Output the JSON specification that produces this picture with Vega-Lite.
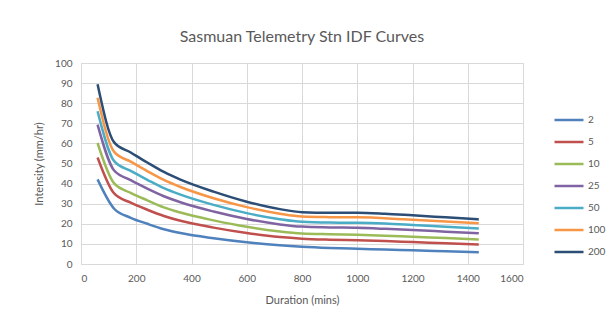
{
  "$schema": "https://vega.github.io/schema/vega-lite/v6.json",
  "width": 442,
  "height": 201,
  "autosize": {"type": "none"},
  "padding": {"left": 81, "top": 63, "right": 88, "bottom": 45},
  "background": "white",
  "title": {
    "text": "Sasmuan Telemetry Stn IDF Curves",
    "font": "Lato",
    "fontSize": 16,
    "fontWeight": "normal",
    "color": "#595959",
    "anchor": "middle",
    "offset": 13
  },
  "config": {
    "view": {"stroke": "#D9D9D9", "strokeWidth": 1},
    "font": "Lato",
    "axis": {
      "labelFont": "Lato",
      "titleFont": "Lato",
      "labelColor": "#595959",
      "titleColor": "#595959",
      "labelFontSize": 10,
      "titleFontSize": 11,
      "titleFontWeight": "normal",
      "gridColor": "#D9D9D9",
      "gridWidth": 1,
      "domain": false,
      "ticks": false
    }
  },
  "data": {
    "values": [
      {"duration": 60, "period": 2, "intensity": 42.1},
      {"duration": 120, "period": 2, "intensity": 27.5},
      {"duration": 180, "period": 2, "intensity": 23.0},
      {"duration": 240, "period": 2, "intensity": 20.0},
      {"duration": 300, "period": 2, "intensity": 17.3},
      {"duration": 360, "period": 2, "intensity": 15.4},
      {"duration": 480, "period": 2, "intensity": 12.8},
      {"duration": 600, "period": 2, "intensity": 10.8},
      {"duration": 720, "period": 2, "intensity": 9.3},
      {"duration": 800, "period": 2, "intensity": 8.6},
      {"duration": 900, "period": 2, "intensity": 8.0},
      {"duration": 1000, "period": 2, "intensity": 7.6},
      {"duration": 1100, "period": 2, "intensity": 7.2},
      {"duration": 1200, "period": 2, "intensity": 6.8},
      {"duration": 1320, "period": 2, "intensity": 6.3},
      {"duration": 1440, "period": 2, "intensity": 5.8},

      {"duration": 60, "period": 5, "intensity": 53.0},
      {"duration": 120, "period": 5, "intensity": 35.1},
      {"duration": 180, "period": 5, "intensity": 30.5},
      {"duration": 240, "period": 5, "intensity": 27.0},
      {"duration": 300, "period": 5, "intensity": 23.9},
      {"duration": 360, "period": 5, "intensity": 21.5},
      {"duration": 480, "period": 5, "intensity": 18.1},
      {"duration": 600, "period": 5, "intensity": 15.4},
      {"duration": 720, "period": 5, "intensity": 13.4},
      {"duration": 800, "period": 5, "intensity": 12.6},
      {"duration": 900, "period": 5, "intensity": 12.1},
      {"duration": 1000, "period": 5, "intensity": 11.8},
      {"duration": 1100, "period": 5, "intensity": 11.4},
      {"duration": 1200, "period": 5, "intensity": 10.9},
      {"duration": 1320, "period": 5, "intensity": 10.3},
      {"duration": 1440, "period": 5, "intensity": 9.7},

      {"duration": 60, "period": 10, "intensity": 60.2},
      {"duration": 120, "period": 10, "intensity": 40.1},
      {"duration": 180, "period": 10, "intensity": 35.4},
      {"duration": 240, "period": 10, "intensity": 31.7},
      {"duration": 300, "period": 10, "intensity": 28.2},
      {"duration": 360, "period": 10, "intensity": 25.6},
      {"duration": 480, "period": 10, "intensity": 21.7},
      {"duration": 600, "period": 10, "intensity": 18.5},
      {"duration": 720, "period": 10, "intensity": 16.2},
      {"duration": 800, "period": 10, "intensity": 15.2},
      {"duration": 900, "period": 10, "intensity": 14.8},
      {"duration": 1000, "period": 10, "intensity": 14.5},
      {"duration": 1100, "period": 10, "intensity": 14.1},
      {"duration": 1200, "period": 10, "intensity": 13.5},
      {"duration": 1320, "period": 10, "intensity": 12.9},
      {"duration": 1440, "period": 10, "intensity": 12.2},

      {"duration": 60, "period": 25, "intensity": 69.3},
      {"duration": 120, "period": 25, "intensity": 46.5},
      {"duration": 180, "period": 25, "intensity": 41.7},
      {"duration": 240, "period": 25, "intensity": 37.5},
      {"duration": 300, "period": 25, "intensity": 33.7},
      {"duration": 360, "period": 25, "intensity": 30.7},
      {"duration": 480, "period": 25, "intensity": 26.1},
      {"duration": 600, "period": 25, "intensity": 22.4},
      {"duration": 720, "period": 25, "intensity": 19.7},
      {"duration": 800, "period": 25, "intensity": 18.6},
      {"duration": 900, "period": 25, "intensity": 18.2},
      {"duration": 1000, "period": 25, "intensity": 18.0},
      {"duration": 1100, "period": 25, "intensity": 17.5},
      {"duration": 1200, "period": 25, "intensity": 16.9},
      {"duration": 1320, "period": 25, "intensity": 16.1},
      {"duration": 1440, "period": 25, "intensity": 15.3},

      {"duration": 60, "period": 50, "intensity": 76.0},
      {"duration": 120, "period": 50, "intensity": 51.2},
      {"duration": 180, "period": 50, "intensity": 46.3},
      {"duration": 240, "period": 50, "intensity": 41.9},
      {"duration": 300, "period": 50, "intensity": 37.7},
      {"duration": 360, "period": 50, "intensity": 34.5},
      {"duration": 480, "period": 50, "intensity": 29.4},
      {"duration": 600, "period": 50, "intensity": 25.3},
      {"duration": 720, "period": 50, "intensity": 22.3},
      {"duration": 800, "period": 50, "intensity": 21.0},
      {"duration": 900, "period": 50, "intensity": 20.6},
      {"duration": 1000, "period": 50, "intensity": 20.5},
      {"duration": 1100, "period": 50, "intensity": 20.1},
      {"duration": 1200, "period": 50, "intensity": 19.4},
      {"duration": 1320, "period": 50, "intensity": 18.5},
      {"duration": 1440, "period": 50, "intensity": 17.7},

      {"duration": 60, "period": 100, "intensity": 82.7},
      {"duration": 120, "period": 100, "intensity": 55.8},
      {"duration": 180, "period": 100, "intensity": 50.9},
      {"duration": 240, "period": 100, "intensity": 46.2},
      {"duration": 300, "period": 100, "intensity": 41.8},
      {"duration": 360, "period": 100, "intensity": 38.3},
      {"duration": 480, "period": 100, "intensity": 32.7},
      {"duration": 600, "period": 100, "intensity": 28.3},
      {"duration": 720, "period": 100, "intensity": 25.0},
      {"duration": 800, "period": 100, "intensity": 23.6},
      {"duration": 900, "period": 100, "intensity": 23.3},
      {"duration": 1000, "period": 100, "intensity": 23.2},
      {"duration": 1100, "period": 100, "intensity": 22.8},
      {"duration": 1200, "period": 100, "intensity": 22.0},
      {"duration": 1320, "period": 100, "intensity": 21.1},
      {"duration": 1440, "period": 100, "intensity": 20.3},

      {"duration": 60, "period": 200, "intensity": 89.4},
      {"duration": 120, "period": 200, "intensity": 60.5},
      {"duration": 180, "period": 200, "intensity": 55.5},
      {"duration": 240, "period": 200, "intensity": 50.5},
      {"duration": 300, "period": 200, "intensity": 45.8},
      {"duration": 360, "period": 200, "intensity": 42.0},
      {"duration": 480, "period": 200, "intensity": 36.0},
      {"duration": 600, "period": 200, "intensity": 31.0},
      {"duration": 720, "period": 200, "intensity": 27.3},
      {"duration": 800, "period": 200, "intensity": 25.8},
      {"duration": 900, "period": 200, "intensity": 25.5},
      {"duration": 1000, "period": 200, "intensity": 25.5},
      {"duration": 1100, "period": 200, "intensity": 25.0},
      {"duration": 1200, "period": 200, "intensity": 24.2},
      {"duration": 1320, "period": 200, "intensity": 23.2},
      {"duration": 1440, "period": 200, "intensity": 22.2}
    ]
  },
  "mark": {"type": "line", "interpolate": "monotone", "strokeWidth": 2.5},
  "encoding": {
    "x": {
      "field": "duration",
      "type": "quantitative",
      "scale": {"domain": [0, 1600], "nice": false},
      "axis": {"values": [0, 200, 400, 600, 800, 1000, 1200, 1400, 1600], "format": "d", "title": "Duration (mins)", "labelPadding": 9, "titlePadding": 11}
    },
    "y": {
      "field": "intensity",
      "type": "quantitative",
      "scale": {"domain": [0, 100], "nice": false},
      "axis": {"values": [0, 10, 20, 30, 40, 50, 60, 70, 80, 90, 100], "title": "Intensity (mm/hr)", "labelPadding": 9, "titlePadding": 10}
    },
    "color": {
      "field": "period",
      "type": "nominal",
      "scale": {
        "domain": [2, 5, 10, 25, 50, 100, 200],
        "range": ["#4F81BD", "#C0504D", "#9BBB59", "#8064A2", "#4BACC6", "#F79646", "#2C4D75"]
      },
      "legend": {
        "title": null,
        "orient": "none",
        "legendX": 472,
        "legendY": 46,
        "symbolType": "stroke",
        "symbolSize": 841,
        "symbolStrokeWidth": 2.5,
        "clipHeight": 22,
        "rowPadding": 0,
        "labelOffset": 3,
        "labelFont": "Lato",
        "labelFontSize": 10,
        "labelColor": "#595959"
      }
    }
  }
}
